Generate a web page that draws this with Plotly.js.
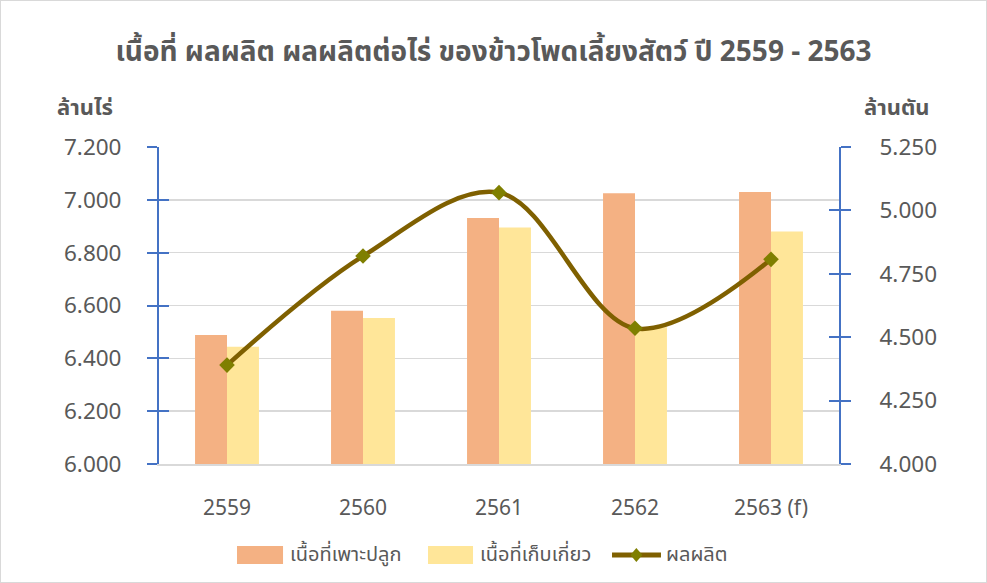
<!DOCTYPE html>
<html><head><meta charset="utf-8">
<script src="https://cdn.plot.ly/plotly-3.0.1.min.js"></script>
<style>html,body{margin:0;padding:0;background:#fff}#wrap{position:relative;width:987px;height:583px}#chart{width:987px;height:583px}#border{position:absolute;left:0;top:0;width:985px;height:581px;border:1px solid #D9D9D9;pointer-events:none}</style>
</head><body>
<div id="wrap"><div id="chart"></div><div id="border"></div></div>
<script>
const categories = ['2559', '2560', '2561', '2562', '2563 (f)'];
const plantedArea = [6.488, 6.580, 6.931, 7.025, 7.030];
const harvestedArea = [6.444, 6.553, 6.895, 6.518, 6.880];
const production = [4.390, 4.820, 5.070, 4.535, 4.807];
const leftTicks = [6.0, 6.2, 6.4, 6.6, 6.8, 7.0, 7.2];
const rightTicks = [4.0, 4.25, 4.5, 4.75, 5.0, 5.25];
const seriesNames = ['เนื้อที่เพาะปลูก', 'เนื้อที่เก็บเกี่ยว', 'ผลผลิต'];
const seriesColors = ['#F4B183', '#FFE699', '#7F6000'];
const markerColor = '#7F7F00';

const FONT = "Tahoma, 'Noto Sans Thai', 'Noto Sans', 'DejaVu Sans', sans-serif";
const GREY = '#595959';
const BLUE = '#4472C4';

const traces = [
  {type:'bar', name:seriesNames[0], x:categories, y:plantedArea, marker:{color:seriesColors[0]}, yaxis:'y'},
  {type:'bar', name:seriesNames[1], x:categories, y:harvestedArea, marker:{color:seriesColors[1]}, yaxis:'y'},
  {type:'scatter', mode:'lines+markers', name:seriesNames[2], x:categories, y:production, yaxis:'y2',
   line:{color:seriesColors[2], width:4.5, shape:'spline', smoothing:1},
   marker:{symbol:'diamond', size:12, color:markerColor}},
  {type:'scatter', x:categories, y:[6.5,6.5,6.5,6.5,6.5], yaxis:'y3', showlegend:false, hoverinfo:'skip', mode:'markers', marker:{opacity:0}},
  {type:'scatter', x:categories, y:[4.5,4.5,4.5,4.5,4.5], yaxis:'y4', showlegend:false, hoverinfo:'skip', mode:'markers', marker:{opacity:0}}
];

// custom legend (paper coords)
const legY = -0.287;
const shapes = [
  {type:'rect', xref:'paper', yref:'paper', x0:0.1147, x1:0.1824, y0:-0.3155, y1:-0.2587, fillcolor:seriesColors[0], line:{width:0}},
  {type:'rect', xref:'paper', yref:'paper', x0:0.3956, x1:0.4618, y0:-0.3155, y1:-0.2587, fillcolor:seriesColors[1], line:{width:0}},
  {type:'line', xref:'paper', yref:'paper', x0:0.6662, x1:0.7382, y0:legY, y1:legY, line:{color:seriesColors[2], width:5}},
  {type:'path', xref:'paper', yref:'paper', xsizemode:'pixel', ysizemode:'pixel', xanchor:0.702, yanchor:legY,
   path:'M0,7 L6,0 L0,-7 L-6,0 Z', fillcolor:markerColor, line:{width:0}}
];

const layout = {
  width:987, height:583,
  margin:{l:159, r:148, t:147, b:119},
  paper_bgcolor:'#fff', plot_bgcolor:'#fff',
  font:{family:FONT, color:GREY},
  title:{text:'<b>เนื้อที่ ผลผลิต ผลผลิตต่อไร่ ของข้าวโพดเลี้ยงสัตว์ ปี 2559 - 2563</b>', font:{size:28, color:GREY, family:FONT}, x:0.5, xanchor:'center', y:0.912, yanchor:'middle'},
  barmode:'group', bargap:0.53, bargroupgap:0,
  showlegend:false,
  xaxis:{type:'category', showgrid:false, zeroline:false, showline:true, linecolor:'#D9D9D9', linewidth:1.5, ticks:'', tickfont:{size:21, color:GREY}, ticklabelstandoff:24},
  yaxis:{range:[6,7.2], tickvals:leftTicks, tickformat:'.3f', showgrid:true, gridcolor:'#D9D9D9', gridwidth:1.5, zeroline:false,
    showline:true, linecolor:BLUE, linewidth:2, ticks:'outside', ticklen:10, tickwidth:2, tickcolor:BLUE,
    tickfont:{size:22.5, color:GREY}, ticklabelstandoff:21},
  yaxis2:{range:[4,5.25], tickvals:rightTicks, tickformat:'.3f', overlaying:'y', side:'right', showgrid:false, zeroline:false,
    showline:true, linecolor:BLUE, linewidth:2, ticks:'outside', ticklen:10, tickwidth:2, tickcolor:BLUE,
    tickfont:{size:22.5, color:GREY}, ticklabelstandoff:24},
  yaxis3:{range:[6,7.2], tickvals:leftTicks, overlaying:'y', side:'left', showgrid:false, zeroline:false, showline:false,
    ticks:'inside', ticklen:10, tickwidth:2, tickcolor:BLUE, showticklabels:false},
  yaxis4:{range:[4,5.25], tickvals:rightTicks, overlaying:'y', side:'right', showgrid:false, zeroline:false, showline:false,
    ticks:'inside', ticklen:10, tickwidth:2, tickcolor:BLUE, showticklabels:false},
  shapes: shapes,
  annotations:[
    {text:'<b>ล้านไร่</b>', xref:'paper', yref:'paper', x:-0.065, y:1.12, xanchor:'right', yanchor:'middle', showarrow:false, font:{size:22, color:GREY}},
    {text:'<b>ล้านตัน</b>', xref:'paper', yref:'paper', x:1.034, y:1.12, xanchor:'left', yanchor:'middle', showarrow:false, font:{size:22, color:GREY}},
    {text:seriesNames[0], xref:'paper', yref:'paper', x:0.1897, y:legY, xanchor:'left', yanchor:'middle', showarrow:false, font:{size:20, color:GREY}},
    {text:seriesNames[1], xref:'paper', yref:'paper', x:0.4691, y:legY, xanchor:'left', yanchor:'middle', showarrow:false, font:{size:20, color:GREY}},
    {text:seriesNames[2], xref:'paper', yref:'paper', x:0.7426, y:legY, xanchor:'left', yanchor:'middle', showarrow:false, font:{size:20, color:GREY}}
  ]
};

Plotly.newPlot('chart', traces, layout, {displayModeBar:false, staticPlot:true});
</script>
</body></html>
